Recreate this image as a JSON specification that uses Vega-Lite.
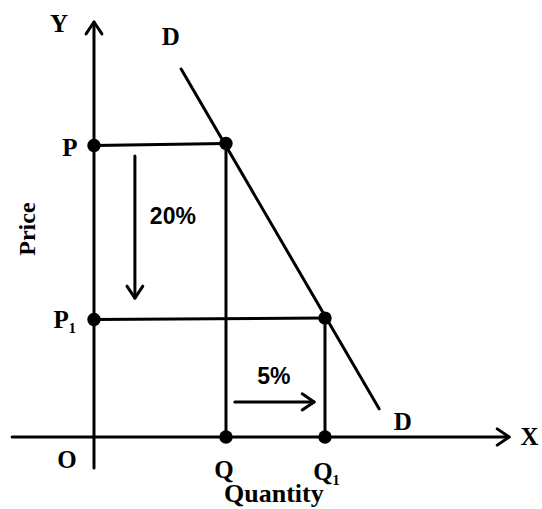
{
  "$schema": "https://vega.github.io/schema/vega-lite/v6.json",
  "width": 542,
  "height": 509,
  "padding": 0,
  "autosize": {"type": "none"},
  "background": "white",
  "config": {"view": {"stroke": null}},
  "datasets": {
    "segs": [
      {"seg": "xaxis", "o": 1, "x": -2.48, "y": 0},
      {"seg": "xaxis", "o": 2, "x": 12.58, "y": 0},
      {"seg": "xhead", "o": 1, "x": 12.22, "y": 0.28},
      {"seg": "xhead", "o": 2, "x": 12.58, "y": 0},
      {"seg": "xhead", "o": 3, "x": 12.22, "y": -0.28},
      {"seg": "yaxis", "o": 1, "x": 0, "y": -1.07},
      {"seg": "yaxis", "o": 2, "x": 0, "y": 14.31},
      {"seg": "yhead", "o": 1, "x": -0.24, "y": 13.9},
      {"seg": "yhead", "o": 2, "x": 0, "y": 14.31},
      {"seg": "yhead", "o": 3, "x": 0.24, "y": 13.9},
      {"seg": "pline", "o": 1, "x": 0, "y": 10.05},
      {"seg": "pline", "o": 2, "x": 4, "y": 10.12},
      {"seg": "qline", "o": 1, "x": 4, "y": 10.12},
      {"seg": "qline", "o": 2, "x": 4, "y": 0},
      {"seg": "p1line", "o": 1, "x": 0, "y": 4.05},
      {"seg": "p1line", "o": 2, "x": 7, "y": 4.1},
      {"seg": "q1line", "o": 1, "x": 7, "y": 4.1},
      {"seg": "q1line", "o": 2, "x": 7, "y": 0},
      {"seg": "demand", "o": 1, "x": 2.64, "y": 12.69},
      {"seg": "demand", "o": 2, "x": 8.64, "y": 0.97},
      {"seg": "down", "o": 1, "x": 1.24, "y": 9.69},
      {"seg": "down", "o": 2, "x": 1.24, "y": 4.79},
      {"seg": "downhead", "o": 1, "x": 1.0, "y": 5.2},
      {"seg": "downhead", "o": 2, "x": 1.24, "y": 4.79},
      {"seg": "downhead", "o": 3, "x": 1.48, "y": 5.2},
      {"seg": "right", "o": 1, "x": 4.27, "y": 1.21},
      {"seg": "right", "o": 2, "x": 6.67, "y": 1.21},
      {"seg": "righthead", "o": 1, "x": 6.31, "y": 1.49},
      {"seg": "righthead", "o": 2, "x": 6.67, "y": 1.21},
      {"seg": "righthead", "o": 3, "x": 6.31, "y": 0.93}
    ],
    "dots": [
      {"x": 0, "y": 10.05},
      {"x": 4, "y": 10.12},
      {"x": 0, "y": 4.05},
      {"x": 7, "y": 4.1},
      {"x": 4, "y": 0},
      {"x": 7, "y": 0}
    ],
    "labels": [
      {"t": "Y", "x": -1.06, "y": 14.24},
      {"t": "D", "x": 2.33, "y": 13.79},
      {"t": "P", "x": -0.73, "y": 9.97},
      {"t": "P₁", "x": -0.88, "y": 4.03},
      {"t": "O", "x": -0.82, "y": -0.79},
      {"t": "Q", "x": 3.94, "y": -1.14},
      {"t": "Q₁", "x": 7.05, "y": -1.21},
      {"t": "X", "x": 13.2, "y": 0},
      {"t": "D", "x": 9.36, "y": 0.52}
    ],
    "pcts": [
      {"t": "20%", "x": 2.39, "y": 7.59},
      {"t": "5%", "x": 5.45, "y": 2.07}
    ]
  },
  "layer": [
    {
      "data": {"name": "segs"},
      "mark": {"type": "line", "color": "black", "strokeWidth": 3, "strokeCap": "round", "strokeJoin": "round"},
      "encoding": {
        "x": {"field": "x", "type": "quantitative", "scale": {"domain": [-2.848, 13.576], "nice": false, "zero": false}, "axis": null},
        "y": {"field": "y", "type": "quantitative", "scale": {"domain": [-2.483, 15.069], "nice": false, "zero": false}, "axis": null},
        "detail": {"field": "seg"},
        "order": {"field": "o"}
      }
    },
    {
      "data": {"name": "dots"},
      "mark": {"type": "point", "filled": true, "color": "black", "size": 180, "opacity": 1},
      "encoding": {
        "x": {"field": "x", "type": "quantitative"},
        "y": {"field": "y", "type": "quantitative"}
      }
    },
    {
      "data": {"name": "labels"},
      "mark": {"type": "text", "font": "Liberation Serif", "fontWeight": "bold", "fontSize": 25, "color": "black", "align": "center", "baseline": "middle"},
      "encoding": {
        "x": {"field": "x", "type": "quantitative"},
        "y": {"field": "y", "type": "quantitative"},
        "text": {"field": "t"}
      }
    },
    {
      "data": {"name": "pcts"},
      "mark": {"type": "text", "font": "Liberation Sans", "fontWeight": "bold", "fontSize": 23, "color": "black", "align": "center", "baseline": "middle"},
      "encoding": {
        "x": {"field": "x", "type": "quantitative"},
        "y": {"field": "y", "type": "quantitative"},
        "text": {"field": "t"}
      }
    },
    {
      "data": {"values": [{"t": "Price", "x": -2.0, "y": 7.17}]},
      "mark": {"type": "text", "font": "Liberation Sans Narrow", "fontWeight": "bold", "fontSize": 24, "angle": 270, "color": "black", "align": "center", "baseline": "middle"},
      "encoding": {
        "x": {"field": "x", "type": "quantitative"},
        "y": {"field": "y", "type": "quantitative"},
        "text": {"field": "t"}
      }
    },
    {
      "data": {"values": [{"t": "Quantity", "x": 5.45, "y": -1.98}]},
      "mark": {"type": "text", "font": "Liberation Serif", "fontWeight": "bold", "fontSize": 26, "color": "black", "align": "center", "baseline": "middle"},
      "encoding": {
        "x": {"field": "x", "type": "quantitative"},
        "y": {"field": "y", "type": "quantitative"},
        "text": {"field": "t"}
      }
    }
  ]
}
